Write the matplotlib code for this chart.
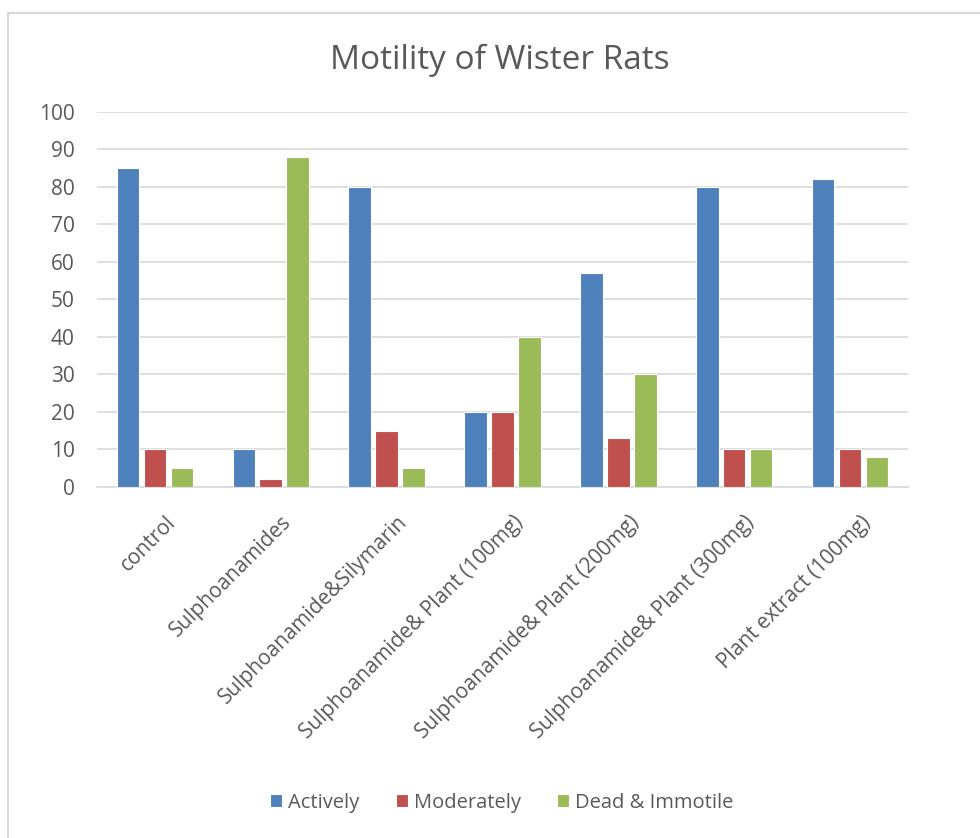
import numpy as np
import matplotlib
matplotlib.use("Agg")
import matplotlib.pyplot as plt
import matplotlib.transforms as mtransforms
from matplotlib.lines import Line2D

# data
categories = ["control", "Sulphoanamides", "Sulphoanamide&Silymarin",
              "Sulphoanamide& Plant (100mg)", "Sulphoanamide& Plant (200mg)",
              "Sulphoanamide& Plant (300mg)", "Plant extract (100mg)"]
actively = [85, 10, 80, 20, 57, 80, 82]
moderately = [10, 2, 15, 20, 13, 10, 10]
dead_immotile = [5, 88, 5, 40, 30, 10, 8]
series_names = ["Actively", "Moderately", "Dead & Immotile"]
yticks = list(range(0, 101, 10))

colors = ["#4F81BD", "#C0504D", "#9BBB59"]
txt = "#595959"
plt.rcParams['font.family'] = ['Open Sans', 'DejaVu Sans']

fig = plt.figure(figsize=(9.8, 8.38), dpi=100)
ax = fig.add_axes([0.099, 0.419, 0.8275, 0.4475])

x = np.arange(len(categories))
w = 0.195
step = 0.232
for i, (vals, name) in enumerate(zip([actively, moderately, dead_immotile], series_names)):
    ax.bar(x + (i - 1) * step, vals, width=w, color=colors[i], label=name,
           edgecolor='white', linewidth=0.8, zorder=3)

ax.set_xlim(-0.5, len(categories) - 0.5)
ax.set_ylim(0, 100)
ax.set_yticks(yticks)
ax.set_yticklabels([str(v) for v in yticks], fontsize=15, color=txt)
ax.yaxis.grid(True, color='#D9D9D9', linewidth=1.2, zorder=0)
ax.set_axisbelow(True)
for s in ['top', 'right', 'left']:
    ax.spines[s].set_visible(False)
ax.spines['bottom'].set_color('#D9D9D9')
ax.spines['bottom'].set_linewidth(1.2)
ax.tick_params(axis='both', length=0)
ax.tick_params(axis='y', pad=16)

ax.set_xticks(x)
ax.set_xticklabels(categories, rotation=45, ha='right', rotation_mode='anchor',
                   fontsize=15, color=txt)
ax.tick_params(axis='x', pad=18)
shift = mtransforms.ScaledTranslation(10 / 100, 0, fig.dpi_scale_trans)
for lab in ax.get_xticklabels():
    lab.set_transform(lab.get_transform() + shift)

fig.text(0.51, 0.928, "Motility of Wister Rats", ha='center', va='center',
         fontsize=24, color=txt)

fig.legend(loc='center', bbox_to_anchor=(0.512, 0.042), ncol=3, frameon=False,
           fontsize=14.5, labelcolor=txt, handlelength=0.6, handleheight=0.6,
           handletextpad=0.3, columnspacing=1.8)

# outer chart border (top and left visible)
fig.add_artist(Line2D([0.0085, 1.0], [0.9845, 0.9845], color='#D9D9D9', lw=1.5))
fig.add_artist(Line2D([0.0085, 0.0085], [0.0, 0.9845], color='#D9D9D9', lw=1.5))

fig.savefig("out.png", dpi=100, facecolor='white')
